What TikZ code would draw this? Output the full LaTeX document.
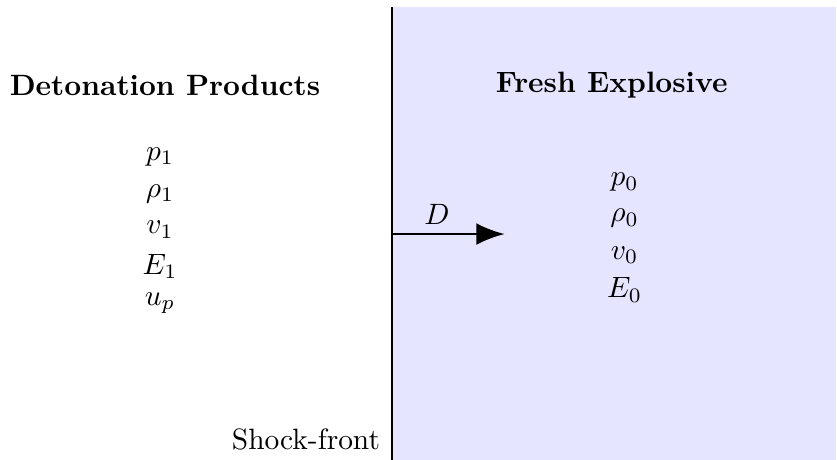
\documentclass[tikz,border=0pt]{standalone}
\usetikzlibrary{arrows.meta}
\begin{document}
\begin{tikzpicture}[scale=0.9756,
  heading/.style={font=\bfseries, inner sep=0pt},
  var/.style={inner sep=0pt},
  front/.style={thick},
  flow/.style={thick, -{Latex[length=9.6pt,width=7.4pt]}}
]
\useasboundingbox (0,0) rectangle (10.25,5.633);
\fill[blue!10] (4.80,0) rectangle (10.24,5.547);
\coordinate (top) at (4.80,5.547);
\coordinate (bot) at (4.80,0);
\draw[front] (bot) -- (top);
\node[heading] (dp) at (2.02,4.59) {Detonation Products};
\node[heading] (fe) at (7.49,4.59) {Fresh Explosive};
\node[var] (p1) at (1.96,3.71) {$p_1$};
\node[var] (r1) at (1.96,3.26) {$\rho_1$};
\node[var] (v1) at (1.96,2.82) {$v_1$};
\node[var] (e1) at (1.96,2.37) {$E_1$};
\node[var] (up) at (1.96,1.92) {$u_p$};
\node[var] (p0) at (7.65,3.40) {$p_0$};
\node[var] (r0) at (7.65,2.96) {$\rho_0$};
\node[var] (v0) at (7.65,2.51) {$v_0$};
\node[var] (e0) at (7.65,2.08) {$E_0$};
\coordinate (astart) at (4.80,2.767);
\coordinate (aend) at (6.18,2.767);
\draw[flow] (astart) -- (aend);
\node[var] (D) at (5.35,3.01) {$D$};
\node[var, anchor=east] (sf) at (4.66,0.257) {Shock-front};
\end{tikzpicture}
\end{document}
